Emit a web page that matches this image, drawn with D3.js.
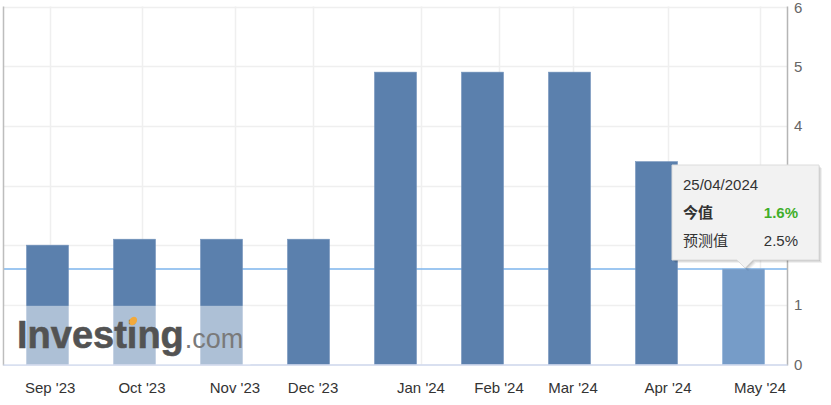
<!DOCTYPE html>
<html><head><meta charset="utf-8">
<script src="https://cdn.jsdelivr.net/npm/d3@7"></script>
<style>html,body{margin:0;padding:0;background:#fff;}svg{display:block;}</style>
</head><body>
<svg id="chart" width="831" height="405"></svg>
<script>
const categories = ["Sep '23","Oct '23","Nov '23","Dec '23","Jan '24","Feb '24","Mar '24","Apr '24","May '24"];
const actualValues = [2.0, 2.1, 2.1, 2.1, 4.9, 4.9, 4.9, 3.4, 1.6];
const tickLabels = ["Sep '23","Oct '23","Nov '23","Dec '23","Jan '24","Feb '24","Mar '24","Apr '24","May '24"];
const tickOffsets = [0.03, 1.086, 2.155, 3.052, 4.293, 5.19, 6.04, 7.132, 8.19];
const yTicks = [0,1,2,3,4,5,6];
const latestValue = 1.6;
const forecastValue = 2.5;
const tooltipDate = "25/04/2024";

const svg = d3.select("#chart");
const plotL = 3.5, plotR = 787.5;
const y = d3.scaleLinear().domain([0,6]).range([364.5, 6.5]);
const x = d3.scalePoint().domain(categories).range([47.5, 743.5]);
const xi = d3.scaleLinear().domain([0, categories.length-1]).range([47.5, 743.5]);
const barW = 42;
const font = "'Liberation Sans', Arial, sans-serif";

// horizontal grid
svg.append("g").selectAll("line").data(yTicks.filter(d=>d>0)).join("line")
  .attr("x1", plotL).attr("x2", plotR)
  .attr("y1", d=>Math.round(y(d))+0.5).attr("y2", d=>Math.round(y(d))+0.5)
  .attr("stroke", "#efefef").attr("stroke-width", 1.5);
// vertical grid
svg.append("g").selectAll("line").data(tickOffsets).join("line")
  .attr("x1", d=>Math.round(xi(d))+0.5).attr("x2", d=>Math.round(xi(d))+0.5)
  .attr("y1", y(6)).attr("y2", y(0))
  .attr("stroke", "#efefef").attr("stroke-width", 1.5);

// latest value line
svg.append("line").attr("x1", plotL).attr("x2", plotR)
  .attr("y1", y(latestValue)).attr("y2", y(latestValue))
  .attr("stroke", "#7cb5ec").attr("stroke-width", 1.5);

// bars
svg.append("g").selectAll("rect").data(actualValues).join("rect")
  .attr("x", (d,i)=>x(categories[i]) - barW/2)
  .attr("width", barW)
  .attr("y", d=>y(d))
  .attr("height", d=>y(0)-y(d))
  .attr("fill", (d,i)=> i===actualValues.length-1 ? "#769cc8" : "#5b80ad")
  .attr("stroke", (d,i)=> i===actualValues.length-1 ? "#8aaed6" : "#7393bb")
  .attr("stroke-width", 0.6);

// axes lines
svg.append("line").attr("x1", plotL).attr("x2", plotL).attr("y1", y(6)).attr("y2", y(0)+1)
  .attr("stroke", "#bdbdbd").attr("stroke-width", 1.5);
svg.append("line").attr("x1", plotR).attr("x2", plotR).attr("y1", y(6)).attr("y2", y(0)+1)
  .attr("stroke", "#b5b5b5").attr("stroke-width", 1.5);
svg.append("line").attr("x1", plotL).attr("x2", plotR).attr("y1", y(0)+0.5).attr("y2", y(0)+0.5)
  .attr("stroke", "#ccd6eb").attr("stroke-width", 1.5);

// watermark
const wm = svg.append("g");
wm.append("rect").attr("x", plotL+1).attr("y", y(1)+1).attr("width", 246).attr("height", y(0)-y(1)-1)
  .attr("fill", "#fff").attr("opacity", 0.5);
const wt = wm.append("text").attr("x", 17).attr("y", 348)
  .attr("font-family", font).attr("font-size", 38).attr("font-weight", "bold")
  .attr("fill", "#535353").attr("stroke", "#535353").attr("stroke-width", 0.6).text("Investing");
const wlen = wt.node().getComputedTextLength();
let ix = 17 + wt.node().getSubStringLength(0,6);
let iw = wt.node().getSubStringLength(6,1);
wm.append("ellipse").attr("cx", ix + iw/2 + 1).attr("cy", 321).attr("rx", 3.6).attr("ry", 4.6)
  .attr("transform", `rotate(35 ${ix+iw/2+1} 321)`).attr("fill", "#f2a93b");
wm.append("text").attr("x", 17 + wlen + 1).attr("y", 348)
  .attr("font-family", font).attr("font-size", 27)
  .attr("fill", "#7a7a7a").text(".com");

// x labels
svg.append("g").selectAll("text").data(tickLabels).join("text")
  .attr("x", (d,i)=>xi(tickOffsets[i])).attr("y", 393)
  .attr("text-anchor", "middle").attr("font-family", font).attr("font-size", 15)
  .attr("fill", "#333").text(d=>d);

// y labels
svg.append("g").selectAll("text").data(yTicks).join("text")
  .attr("x", 794).attr("y", d=>Math.max(y(d)+5.5, 13))
  .attr("font-family", font).attr("font-size", 15)
  .attr("fill", "#666").text(d=>d);

// tooltip
const tx = 672, ty = 165, tw = 147, th = 95;
const tipX = x(categories[categories.length-1]) + 1.5, tipY = y(latestValue) - 1;
const tpath = `M${tx},${ty} H${tx+tw} V${ty+th} H${tipX+8} L${tipX},${tipY} L${tipX-8},${ty+th} H${tx} Z`;
svg.append("path").attr("d", tpath).attr("transform", "translate(3,3)").attr("fill", "#000").attr("opacity", 0.06);
svg.append("path").attr("d", tpath).attr("transform", "translate(2,2)").attr("fill", "#000").attr("opacity", 0.08);
svg.append("path").attr("d", tpath).attr("transform", "translate(1,1)").attr("fill", "#000").attr("opacity", 0.1);
svg.append("path").attr("d", tpath).attr("fill", "#f2f2f2").attr("stroke", "#dcdcdc").attr("stroke-width", 1);
svg.append("text").attr("x", 683).attr("y", 190).attr("font-family", font).attr("font-size", 15)
  .attr("fill", "#333").text(tooltipDate);
svg.append("text").attr("x", 683).attr("y", 218).attr("font-family", "'Noto Sans CJK SC', sans-serif").attr("font-size", 15)
  .attr("font-weight", "bold").attr("fill", "#333").text("今值");
svg.append("text").attr("x", 798).attr("y", 218).attr("text-anchor", "end").attr("font-family", font).attr("font-size", 15)
  .attr("font-weight", "bold").attr("fill", "#3fae2a").text(latestValue.toFixed(1) + "%");
svg.append("text").attr("x", 683).attr("y", 246).attr("font-family", "'Noto Sans CJK SC', sans-serif").attr("font-size", 15)
  .attr("fill", "#333").text("预测值");
svg.append("text").attr("x", 798).attr("y", 246).attr("text-anchor", "end").attr("font-family", font).attr("font-size", 15)
  .attr("fill", "#333").text(forecastValue.toFixed(1) + "%");
</script>
</body></html>
